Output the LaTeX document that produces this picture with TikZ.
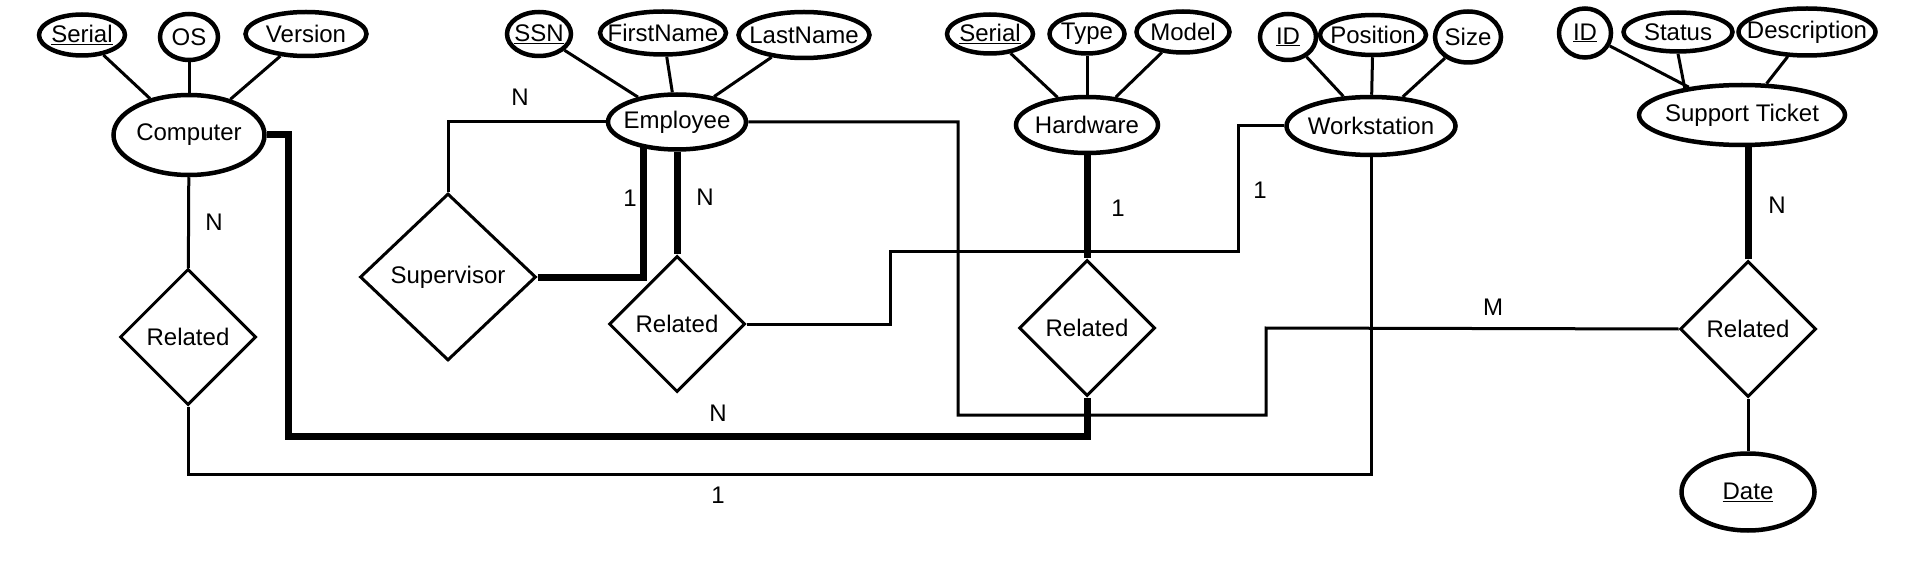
\documentclass[tikz,border=0pt]{standalone}
\usepackage{fontspec}
\setmainfont{Liberation Sans}
\usetikzlibrary{shapes.geometric}
\usetikzlibrary{backgrounds}

%Texte sans largeur propre : la taille vient des minimum width/height
\newcommand{\etiq}[1]{\makebox[0pt]{#1}}

\begin{document}
\begin{tikzpicture}[x=1pt,y=-1pt,font=\fontsize{24}{28}\selectfont,
  entite/.style={ellipse,draw,line width=\epcontour,fill=white,inner sep=0pt},
  relation/.style={diamond,draw,line width=\epfin,fill=white,inner sep=0pt,minimum width=136pt,minimum height=136pt},
  lien/.style={line width=\epfin},
  liengras/.style={line width=\epgras},
  card/.style={inner sep=0pt}]

%Epaisseurs
\def \epfin{3pt}
\def \epcontour{4.5pt}
\def \epgras{7pt}

\useasboundingbox (0,0) rectangle (1912,588);

%%% Ordinateur %%%
\node[entite,minimum width=151pt,minimum height=80pt] (comp) at (189,135) {\etiq{Computer}};
\node[entite,minimum width=86pt,minimum height=41pt] (cSerial) at (82,35) {\etiq{\underline{Serial}}};
\node[entite,minimum width=58pt,minimum height=46pt] (cOS) at (189,37) {\etiq{OS}};
\node[entite,minimum width=121pt,minimum height=44pt] (cVersion) at (306,34) {\etiq{Version}};
\node[relation] (crel) at (188,337) {\etiq{Related}};

%%% Employe %%%
\node[entite,minimum width=138pt,minimum height=55pt] (emp) at (677,122) {\etiq{Employee}};
\node[entite,minimum width=64pt,minimum height=44pt] (eSSN) at (539,34) {\etiq{\underline{SSN}}};
\node[entite,minimum width=126pt,minimum height=43pt] (eFirst) at (663,33) {\etiq{FirstName}};
\node[entite,minimum width=131pt,minimum height=46pt] (eLast) at (804,35) {\etiq{LastName}};
\node[relation,minimum width=176pt,minimum height=167pt] (sup) at (448,277) {\etiq{Supervisor}};
\node[relation] (erel) at (677,324) {\etiq{Related}};

%%% Materiel %%%
\node[entite,minimum width=142pt,minimum height=56pt] (hw) at (1087,125) {\etiq{Hardware}};
\node[entite,minimum width=86pt,minimum height=39pt] (hSerial) at (990,34) {\etiq{\underline{Serial}}};
\node[entite,minimum width=75pt,minimum height=39pt] (hType) at (1087,34) {\etiq{Type}};
\node[entite,minimum width=93pt,minimum height=41pt] (hModel) at (1183,32) {\etiq{Model}};
\node[relation] (hrel) at (1087,328) {\etiq{Related}};

%%% Poste de travail %%%
\node[entite,minimum width=169pt,minimum height=58pt] (ws) at (1371,126) {\etiq{Workstation}};
\node[entite,minimum width=56pt,minimum height=46pt] (wID) at (1288,37) {\etiq{\underline{ID}}};
\node[entite,minimum width=106pt,minimum height=40pt] (wPosition) at (1373,35) {\etiq{Position}};
\node[entite,minimum width=66pt,minimum height=51pt] (wSize) at (1468,37) {\etiq{Size}};

%%% Ticket %%%
\node[entite,minimum width=206pt,minimum height=60pt] (tick) at (1742,115) {\etiq{Support Ticket}};
\node[entite,minimum width=52pt,minimum height=49pt] (tID) at (1585,33) {\etiq{\underline{ID}}};
\node[entite,minimum width=109pt,minimum height=39pt] (tStatus) at (1678,32) {\etiq{Status}};
\node[entite,minimum width=137pt,minimum height=47pt] (tDesc) at (1807,32) {\etiq{Description}};
\node[relation] (trel) at (1748,329) {\etiq{Related}};
\node[entite,minimum width=133pt,minimum height=77pt] (date) at (1748,492) {\etiq{\underline{Date}}};

%Cardinalites
\node[card] (n1) at (214,222) {N};
\node[card] (n2) at (520,97) {N};
\node[card] (n3) at (630,198) {1};
\node[card] (n4) at (705,197) {N};
\node[card] (n5) at (1118,208) {1};
\node[card] (n6) at (1260,190) {1};
\node[card] (n7) at (718,413) {N};
\node[card] (n8) at (718,495) {1};
\node[card] (n9) at (1493,307) {M};
\node[card] (n10) at (1777,205) {N};

\begin{scope}[on background layer]
\fill[white] (0,0) rectangle (1912,588);

%Attributs
\foreach \a/\e in {cSerial/comp,cOS/comp,cVersion/comp,eSSN/emp,eFirst/emp,eLast/emp,
  hSerial/hw,hType/hw,hModel/hw,wID/ws,wPosition/ws,wSize/ws,tID/tick,tDesc/tick}
  \draw[lien] (\a) -- (\e);
\draw[lien] (tStatus.south) -- ([xshift=-52pt]tick.center);

%Liens simples
\draw[lien] (comp) -- (crel);
\draw[lien] (emp.west) -| (sup.north);
\draw[lien] (emp.east) -| (958,415) -| (1266,328) -- (trel.west);
\draw[lien] (erel.east) -| (890,252) -| (1238,126) -- (ws.west);
\draw[lien] (crel.south) -- (188,474) -| (ws.south);
\draw[lien] (trel) -- (date);

%Participation totale
\draw[liengras] (comp.east) -| (288,436) -| (hrel.south);
\draw[liengras] (sup.east) -| ([xshift=-34pt]emp.center);
\draw[liengras] (emp) -- (erel);
\draw[liengras] (hw) -- (hrel);
\draw[liengras] (trel.north) -- (trel.north |- tick.center);
\end{scope}

\end{tikzpicture}
\end{document}
